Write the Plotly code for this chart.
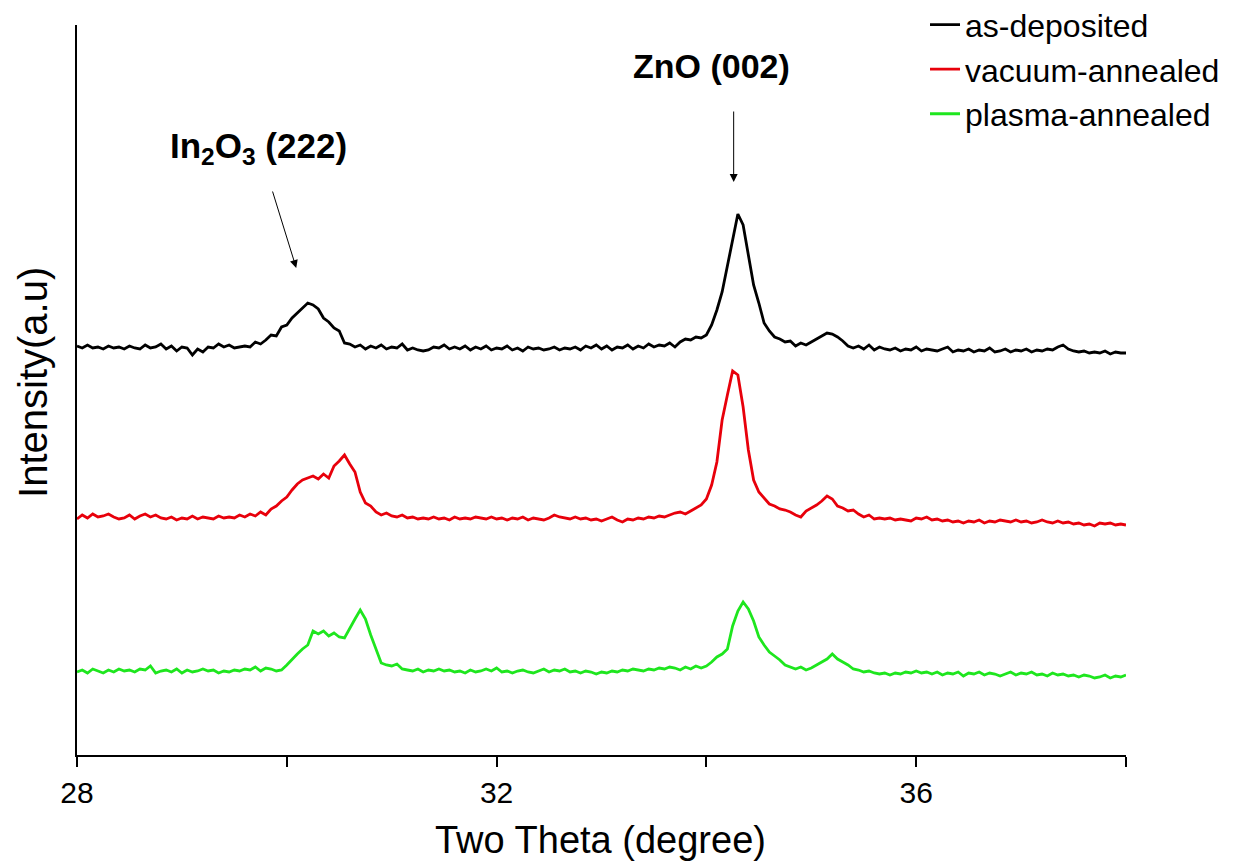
import plotly.graph_objects as go

# ---- data ----
start, step, n_pts = 28.0, 0.05, 201
two_theta = [round(start + step * i, 2) for i in range(n_pts)]

as_deposited = [
    409, 407, 410, 407, 408, 406, 409, 407, 408, 406,
    409, 407, 406, 410, 407, 408, 411, 406, 409, 404,
    408, 407, 400, 406, 403, 408, 407, 411, 408, 410,
    407, 408, 409, 408, 413, 411, 415, 420, 419, 428,
    430, 437, 442, 448, 452, 450, 446, 437, 433, 427,
    424, 412, 411, 408, 410, 406, 409, 407, 410, 406,
    408, 407, 411, 405, 407, 405, 404, 405, 408, 407,
    410, 406, 408, 406, 409, 405, 408, 406, 409, 405,
    407, 406, 409, 405, 407, 404, 408, 406, 407, 405,
    406, 408, 405, 407, 406, 408, 405, 409, 407, 410,
    406, 409, 405, 408, 407, 410, 406, 409, 407, 411,
    408, 410, 409, 412, 408, 413, 416, 415, 418, 417,
    420, 430, 445, 463, 488, 515, 541, 530, 502, 470,
    452, 432, 424, 418, 416, 413, 414, 409, 412, 410,
    413, 416, 419, 422, 421, 418, 414, 409, 407, 409,
    406, 410, 405, 408, 406, 405, 407, 404, 406, 405,
    408, 404, 406, 405, 404, 406, 408, 403, 405, 404,
    406, 403, 405, 404, 407, 403, 404, 406, 403, 405,
    404, 406, 403, 405, 404, 406, 405, 408, 410, 406,
    404, 403, 404, 402, 403, 402, 404, 401, 403, 402,
    402,
]

vacuum_annealed = [
    236, 240, 237, 241, 238, 239, 241, 238, 236, 237,
    240, 236, 239, 241, 238, 240, 237, 236, 238, 235,
    237, 236, 239, 236, 238, 237, 236, 239, 237, 238,
    237, 240, 238, 241, 239, 243, 240, 246, 249, 254,
    258, 265, 271, 275, 277, 279, 276, 281, 277, 289,
    294, 300, 291, 283, 263, 252, 249, 243, 240, 242,
    239, 238, 240, 237, 238, 236, 237, 236, 238, 236,
    237, 235, 238, 236, 237, 236, 238, 237, 236, 238,
    236, 237, 235, 237, 236, 238, 235, 237, 236, 235,
    237, 240, 238, 237, 236, 238, 236, 237, 235, 236,
    234, 236, 238, 235, 233, 236, 235, 237, 236, 238,
    237, 239, 238, 240, 242, 243, 241, 244, 247, 250,
    256, 270, 293, 335, 360, 384, 380, 348, 305, 275,
    263, 257, 251, 249, 246, 245, 243, 240, 238, 244,
    247, 250, 254, 259, 256, 249, 247, 244, 245, 241,
    238, 240, 236, 237, 236, 237, 235, 236, 235, 234,
    237, 236, 238, 235, 236, 234, 235, 233, 234, 232,
    234, 233, 235, 232, 234, 233, 235, 234, 233, 235,
    233, 234, 232, 233, 235, 233, 232, 234, 232, 233,
    231, 232, 230, 231, 229, 232, 231, 232, 230, 231,
    230,
]

plasma_annealed = [
    83, 85, 82, 86, 84, 82, 85, 83, 86, 84,
    85, 83, 86, 85, 89, 82, 84, 85, 83, 86,
    82, 85, 83, 84, 86, 84, 85, 82, 84, 83,
    85, 84, 86, 85, 88, 84, 87, 86, 84, 85,
    90, 96, 101, 106, 110, 124, 121, 124, 119, 122,
    118, 117, 127, 136, 145, 136, 120, 105, 92, 90,
    89, 91, 86, 85, 84, 86, 83, 85, 84, 86,
    84, 85, 83, 84, 82, 85, 83, 84, 86, 84,
    87, 83, 84, 82, 84, 85, 83, 82, 84, 86,
    83, 85, 84, 86, 83, 84, 82, 84, 83, 81,
    83, 82, 84, 83, 85, 84, 86, 85, 84, 86,
    85, 87, 86, 88, 87, 85, 88, 86, 89, 87,
    89, 93, 98, 101, 106, 129, 144, 153, 146, 134,
    118, 110, 103, 99, 95, 90, 88, 86, 88, 85,
    87, 90, 93, 96, 101, 96, 93, 90, 86, 85,
    83, 84, 82, 81, 82, 80, 82, 81, 83, 82,
    84, 82, 83, 81, 83, 80, 82, 81, 83, 79,
    82, 81, 83, 80, 82, 81, 79, 81, 83, 80,
    82, 81, 83, 80, 81, 79, 82, 80, 81, 79,
    80, 78, 80, 79, 77, 78, 80, 77, 79, 78,
    80,
]

series_names = ["as-deposited", "vacuum-annealed", "plasma-annealed"]
series_colors = ["#000000", "#e8000b", "#1ee61e"]
x_major_ticks = [28, 32, 36]
x_minor_ticks = [30, 34, 38]

FONT = "Arial, Liberation Sans, sans-serif"

fig = go.Figure()
for name, ys, col in zip(series_names,
                         [as_deposited, vacuum_annealed, plasma_annealed],
                         series_colors):
    fig.add_trace(go.Scatter(x=two_theta, y=ys, mode="lines", name=name,
                             line=dict(color=col, width=2.8)))

# peak annotations
fig.add_annotation(x=34.05, y=689, xref="x", yref="y", text="<b>ZnO (002)</b>",
                   showarrow=False, font=dict(family=FONT, size=34, color="black"))
fig.add_annotation(x=34.26, y=573, ax=34.26, ay=645, xref="x", yref="y",
                   axref="x", ayref="y", text="", showarrow=True,
                   arrowhead=2, arrowsize=1.6, arrowwidth=1, arrowcolor="black")
fig.add_annotation(x=29.73, y=607, xref="x", yref="y",
                   text="<b>In<sub>2</sub>O<sub>3</sub> (222)</b>",
                   showarrow=False, font=dict(family=FONT, size=35, color="black"))
fig.add_annotation(x=30.09, y=487, ax=29.86, ay=565, xref="x", yref="y",
                   axref="x", ayref="y", text="", showarrow=True,
                   arrowhead=2, arrowsize=1.6, arrowwidth=1, arrowcolor="black")

# axis titles
fig.add_annotation(x=0.4995, y=-0.1164, xref="paper", yref="paper",
                   text="Two Theta (degree)", showarrow=False,
                   xanchor="center", yanchor="middle",
                   font=dict(family=FONT, size=38, color="black"))
fig.add_annotation(x=-0.0420, y=0.511, xref="paper", yref="paper",
                   text="Intensity(a.u)", showarrow=False, textangle=-90,
                   xanchor="center", yanchor="middle",
                   font=dict(family=FONT, size=40, color="black"))

fig.update_layout(
    width=1227, height=856,
    margin=dict(l=69, r=109, t=17, b=109, autoexpand=False),
    paper_bgcolor="white", plot_bgcolor="white",
    font=dict(family=FONT, color="black"),
    legend=dict(x=0.8084, y=1.038, xanchor="left", yanchor="top",
                bgcolor="rgba(0,0,0,0)", font=dict(family=FONT, size=32),
                itemwidth=30),
    xaxis=dict(range=[28, 38], tickmode="array", tickvals=x_major_ticks,
               ticks="outside", ticklen=10, tickwidth=2,
               tickcolor="black", showline=True, linecolor="black", linewidth=2,
               showgrid=False, zeroline=False,
               tickfont=dict(family=FONT, size=30),
               minor=dict(tickmode="array", tickvals=x_minor_ticks,
                          ticks="outside", ticklen=10, tickwidth=2,
                          tickcolor="black", showgrid=False)),
    yaxis=dict(range=[0, 730], showticklabels=False, ticks="",
               showline=True, linecolor="black", linewidth=2,
               showgrid=False, zeroline=False),
)

fig.write_html("out.html")
